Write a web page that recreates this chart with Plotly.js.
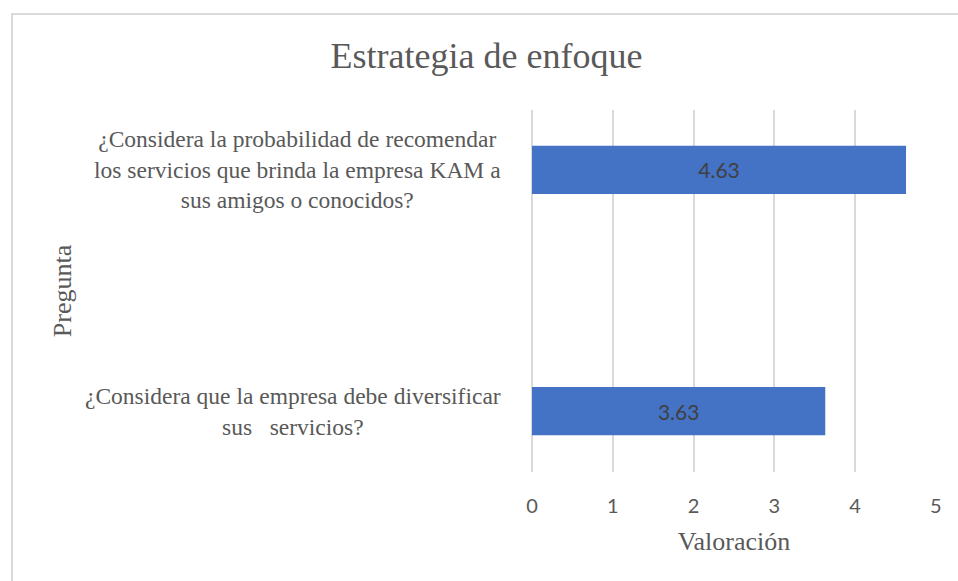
<!DOCTYPE html>
<html>
<head>
<meta charset="utf-8">
<script src="https://cdn.plot.ly/plotly-3.0.1.min.js"></script>
<style>
  html, body { margin: 0; padding: 0; background: #ffffff; }
  #wrap { position: relative; width: 958px; height: 581px; overflow: hidden; }
  #chart { position: absolute; left: 0; top: 0; width: 958px; height: 581px; }
  #frame { position: absolute; left: 11px; top: 13px; width: 1000px; height: 700px;
           border-left: 2px solid #d9d9d9; border-top: 2px solid #d9d9d9; pointer-events: none; }
</style>
</head>
<body>
<div id="wrap">
  <div id="chart"></div>
  <div id="frame"></div>
</div>
<script>
// Data (bottom category first)
const categories = [
  "¿Considera que la empresa debe diversificar<br>sus&nbsp;&nbsp; servicios?",
  "¿Considera la probabilidad de recomendar<br>los servicios que brinda la empresa KAM a<br>sus amigos o conocidos?"
];
const valores = [3.63, 4.63];
const valueLabels = ["3.63", "4.63"];
const xTicks = [0, 1, 2, 3, 4, 5];

const chartTitle = "Estrategia de enfoque";
const xTitle = "Valoración";
const yTitle = "Pregunta";

const serif = "Liberation Serif, Times New Roman, serif";
const sans = "Lato, Open Sans, sans-serif";
const textGray = "#595959";
const gridGray = "#d9d9d9";

const trace = {
  type: "bar",
  orientation: "h",
  x: valores,
  y: categories,
  width: 0.2,
  marker: { color: "#4472C4" },
  text: valueLabels,
  texttemplate: "%{text}",
  textposition: "inside",
  insidetextanchor: "middle",
  textangle: 0,
  insidetextfont: { family: sans, size: 21, color: "#404040" },
  hoverinfo: "x+y"
};

const annotations = categories.map(function (c) {
  return {
    xref: "paper", yref: "y",
    x: -0.0718, y: c,
    xanchor: "right", yanchor: "middle",
    text: c, align: "center", showarrow: false,
    font: { family: serif, size: 23.5, color: textGray }
  };
});

const layout = {
  width: 958, height: 581,
  margin: { l: 532, r: 22, t: 110, b: 109, pad: 0 },
  paper_bgcolor: "#ffffff",
  plot_bgcolor: "#ffffff",
  showlegend: false,
  title: {
    text: chartTitle,
    font: { family: serif, size: 36, color: textGray },
    xref: "container", yref: "container",
    x: 0.5078, xanchor: "center",
    y: 0.905, yanchor: "middle"
  },
  xaxis: {
    range: [0, 5.001],
    tickvals: xTicks,
    ticktext: xTicks.map(String),
    ticks: "",
    ticklabelstandoff: 20,
    tickfont: { family: sans, size: 20, color: textGray },
    showgrid: true, gridcolor: gridGray, gridwidth: 2,
    zeroline: true, zerolinecolor: gridGray, zerolinewidth: 2,
    showline: false,
    title: { text: xTitle, standoff: 15, font: { family: serif, size: 26, color: textGray } },
    fixedrange: true
  },
  yaxis: {
    type: "category",
    categoryorder: "array",
    categoryarray: categories,
    range: [-0.252, 1.248],
    showticklabels: false,
    ticks: "",
    showgrid: false, zeroline: false, showline: false,
    title: { text: yTitle, standoff: 451, font: { family: serif, size: 26, color: textGray } },
    fixedrange: true
  },
  annotations: annotations
};

Plotly.newPlot("chart", [trace], layout, { displayModeBar: false, staticPlot: true });
</script>
</body>
</html>
